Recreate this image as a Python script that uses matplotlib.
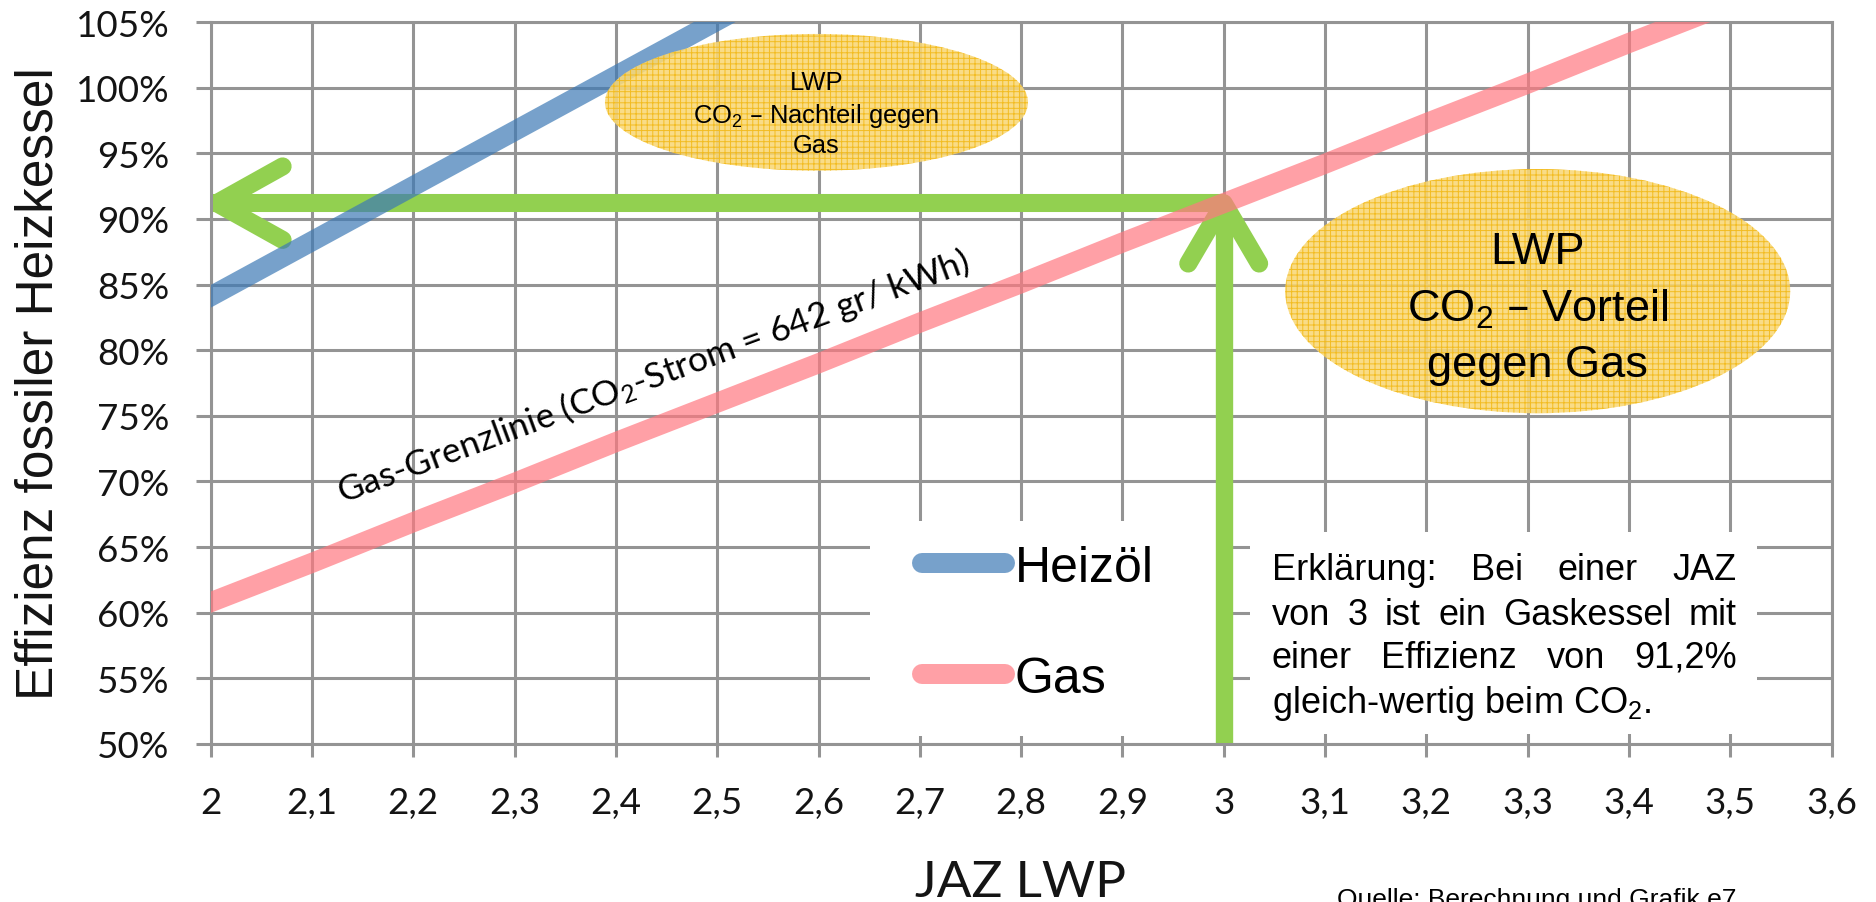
import matplotlib
matplotlib.use('Agg')
import matplotlib.pyplot as plt
from matplotlib.patches import Ellipse, Rectangle
from matplotlib.lines import Line2D
from matplotlib.ticker import FixedLocator

plt.rcParams['mathtext.default'] = 'regular'
plt.rcParams['hatch.linewidth'] = 0.7

# ── Data ─────────────────────────────────────────────────────────
jaz_oil = [2.0, 2.1, 2.2, 2.3, 2.4, 2.5, 2.6]
eff_oil = [84.1, 88.3, 92.5, 96.7, 100.9, 105.1, 109.3]

jaz_gas = [2.0, 2.1, 2.2, 2.3, 2.4, 2.5, 2.6, 2.7, 2.8, 2.9,
           3.0, 3.1, 3.2, 3.3, 3.4, 3.5]
eff_gas = [60.8, 63.8, 66.9, 69.9, 73.0, 76.0, 79.0, 82.1, 85.1, 88.2,
           91.2, 94.2, 97.3, 100.3, 103.4, 106.4]

x_ticks = [2.0, 2.1, 2.2, 2.3, 2.4, 2.5, 2.6, 2.7, 2.8, 2.9,
           3.0, 3.1, 3.2, 3.3, 3.4, 3.5, 3.6]
x_labels = ['2', '2,1', '2,2', '2,3', '2,4', '2,5', '2,6', '2,7', '2,8', '2,9',
            '3', '3,1', '3,2', '3,3', '3,4', '3,5', '3,6']
y_ticks = [50, 55, 60, 65, 70, 75, 80, 85, 90, 95, 100, 105]
y_labels = ['50%', '55%', '60%', '65%', '70%', '75%', '80%', '85%',
            '90%', '95%', '100%', '105%']

series_names = ['Heizöl', 'Gas']

# reading example: JAZ 3 -> gas boiler with 91.2 %
jaz_mark = 3.0
eff_mark = 91.2

# ── Figure ───────────────────────────────────────────────────────
W, H = 1876, 903
fig = plt.figure(figsize=(W / 100, H / 100), dpi=100)
ax = fig.add_axes([210.7 / W, 1 - 745 / H, (1831.5 - 210.7) / W, (745 - 23) / H])
ax.set_xlim(2.0, 3.6)
ax.set_ylim(50, 105)

grid_col = '#949494'
ax.set_axisbelow(True)
ax.grid(True, color=grid_col, lw=2.2, zorder=0)
for sp in ax.spines.values():
    sp.set_color(grid_col)
    sp.set_linewidth(2.2)

ax.xaxis.set_major_locator(FixedLocator(x_ticks))
ax.yaxis.set_major_locator(FixedLocator(y_ticks))
ax.set_xticklabels(x_labels)
ax.set_yticklabels(y_labels)
ax.tick_params(axis='x', direction='out', length=9.4, width=2.2, color=grid_col,
               pad=21, labelsize=26.5, labelcolor='#141414')
ax.tick_params(axis='y', direction='out', length=10.8, width=2.2, color=grid_col,
               pad=19, labelsize=26.5, labelcolor='#141414')
for lab in ax.get_xticklabels() + ax.get_yticklabels():
    lab.set_family('Lato')

# white boxes behind legend and note
ax.add_patch(Rectangle((2.651, 50.6), 0.349, 16.4, facecolor='white',
                       edgecolor='none', zorder=1))
ax.add_patch(Rectangle((3.026, 50.77), 0.50, 15.4, facecolor='white',
                       edgecolor='none', zorder=1))

# ── Green reading arrows ─────────────────────────────────────────
green = '#92d050'
ax.plot([jaz_mark, 2.0], [eff_mark, eff_mark], color=green, lw=13,
        solid_capstyle='butt', zorder=2)
ax.plot([2.071, 2.006, 2.071], [eff_mark + 2.8, eff_mark, eff_mark - 2.8],
        color=green, lw=13, solid_capstyle='round', solid_joinstyle='round',
        zorder=2)
ax.plot([jaz_mark, jaz_mark], [50, eff_mark], color=green, lw=12.5,
        solid_capstyle='butt', zorder=2)
ax.plot([jaz_mark - 0.035, jaz_mark, jaz_mark + 0.035],
        [eff_mark - 4.6, eff_mark, eff_mark - 4.6],
        color=green, lw=13, solid_capstyle='round', solid_joinstyle='round',
        zorder=2)

# ── Series ───────────────────────────────────────────────────────
oil_col, gas_col, line_alpha = '#3d7ab5', '#ff7880', 0.7
ax.plot(jaz_oil, eff_oil, color=oil_col, alpha=line_alpha, lw=14.4,
        solid_capstyle='projecting', zorder=3)
ax.plot(jaz_gas, eff_gas, color=gas_col, alpha=line_alpha, lw=14.4,
        solid_capstyle='projecting', zorder=3)

handles = [Line2D([], [], color=oil_col, alpha=line_alpha, lw=14.4, solid_capstyle='round'),
           Line2D([], [], color=gas_col, alpha=line_alpha, lw=14.4, solid_capstyle='round')]
ax.legend(handles, series_names, loc='center left', bbox_to_anchor=(0.4386, 0.1669),
          frameon=False, borderpad=0, borderaxespad=0, handlelength=1.66,
          handletextpad=0.2, labelspacing=1.3,
          prop={'family': 'Liberation Sans', 'size': 36})

# ── Ellipses with CO2 statements ─────────────────────────────────
ell_kw = dict(facecolor='#f9d877', edgecolor='#f2b814', lw=0, hatch='+++',
              alpha=0.88, zorder=4)
ax.add_patch(Ellipse((2.598, 98.88), 0.4176, 10.42, **ell_kw))
ax.add_patch(Ellipse((3.310, 84.50), 0.4985, 18.60, **ell_kw))

sans = 'Liberation Sans'
for txt, y in zip(['LWP', 'CO$_2$ – Nachteil gegen', 'Gas'], [99.9, 97.38, 95.1]):
    ax.text(2.598, y, txt, ha='center', va='baseline', fontsize=18.4,
            family=sans, zorder=5)
for txt, y in zip(['LWP', 'CO$_2$ – Vorteil', 'gegen Gas'], [86.65, 82.25, 78.06]):
    ax.text(3.310, y, txt, ha='center', va='baseline', fontsize=32.5,
            family=sans, zorder=5)

ax.text(2.4406, 77.24, 'Gas-Grenzlinie (CO$_2$-Strom = 642 gr/ kWh)',
        rotation=20.3, rotation_mode='anchor', ha='center', va='baseline',
        fontsize=25.5, family='Lato', zorder=5)

# ── Axis titles and source ───────────────────────────────────────
fig.text(1021 / W, 1 - 897 / H, 'JAZ LWP', ha='center', va='baseline',
         fontsize=37, family='Lato', color='#141414')
fig.text(53 / W, 1 - 384 / H, 'Effizienz fossiler Heizkessel', rotation=90,
         rotation_mode='anchor', ha='center', va='baseline', fontsize=37,
         family=sans, color='#141414')
fig.text(1336.5 / W, 1 - 907 / H, 'Quelle: Berechnung und Grafik e7',
         ha='left', va='baseline', fontsize=19, family=sans)

# ── Justified explanation text ───────────────────────────────────
note_lines = [['Erklärung:', 'Bei', 'einer', 'JAZ'],
              ['von', '3', 'ist', 'ein', 'Gaskessel', 'mit'],
              ['einer', 'Effizienz', 'von', '91,2%'],
              ['gleich-wertig beim CO$_2$.']]
note_left, note_right = 1271.7, 1737.0
note_base = [580, 625, 668, 713]
renderer = fig.canvas.get_renderer()
for words, base in zip(note_lines, note_base):
    y = 1 - base / H
    texts = [fig.text(0, y, w, ha='left', va='baseline', fontsize=26, family=sans)
             for w in words]
    if len(texts) == 1:
        texts[0].set_x(note_left / W)
        continue
    widths = [t.get_window_extent(renderer).width for t in texts]
    gap = (note_right - note_left - sum(widths)) / (len(texts) - 1)
    x = note_left
    for t, w in zip(texts, widths):
        t.set_x(x / W)
        x += w + gap

fig.savefig('out.png', dpi=100)
